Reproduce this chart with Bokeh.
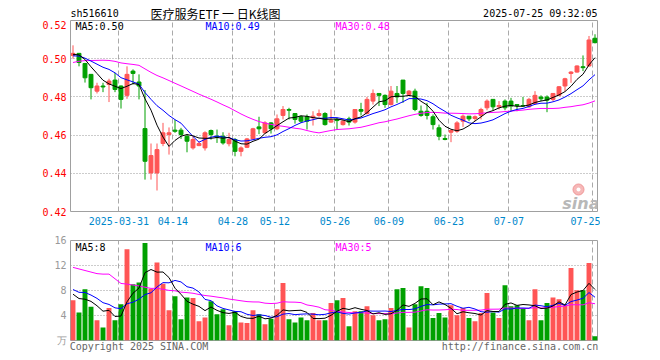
import numpy as np
import pandas as pd
from bokeh.plotting import figure
from bokeh.layouts import column
from bokeh.models import Range1d, FixedTicker, Label, Grid, PrintfTickFormatter
from bokeh.core.properties import value
from bokeh.embed import file_html
from bokeh.resources import INLINE

# ---------------- data ----------------
tick_idx = [8, 17, 27, 34, 44, 53, 63, 73, 87]
tick_labels = ["2025-03-31", "04-14", "04-28", "05-12", "05-26",
               "06-09", "06-23", "07-07", "07-25"]

open_ = [0.5017, 0.5028, 0.4975, 0.4918, 0.4830, 0.4857, 0.4865, 0.4888, 0.4857, 0.4808,
         0.4935, 0.4878, 0.4634, 0.4402, 0.4402, 0.4556, 0.4603, 0.4626, 0.4626, 0.4594,
         0.4533, 0.4545, 0.4533, 0.4624, 0.4594, 0.4594, 0.4555, 0.4577, 0.4515, 0.4536,
         0.4580, 0.4643, 0.4612, 0.4664, 0.4633, 0.4703, 0.4734, 0.4713, 0.4696, 0.4696,
         0.4691, 0.4703, 0.4713, 0.4668, 0.4682, 0.4655, 0.4685, 0.4668, 0.4734, 0.4713,
         0.4778, 0.4818, 0.4808, 0.4760, 0.4818, 0.4888, 0.4813, 0.4830, 0.4725, 0.4725,
         0.4696, 0.4638, 0.4582, 0.4615, 0.4620, 0.4673, 0.4699, 0.4687, 0.4703, 0.4743,
         0.4787, 0.4748, 0.4778, 0.4778, 0.4760, 0.4755, 0.4748, 0.4766, 0.4799, 0.4799,
         0.4787, 0.4808, 0.4857, 0.4923, 0.4930, 0.4958, 0.4962, 0.5107]
high = [0.5070, 0.5030, 0.4978, 0.4920, 0.4874, 0.4874, 0.4895, 0.4926, 0.4860, 0.4960,
        0.4944, 0.4918, 0.4836, 0.4556, 0.4556, 0.4664, 0.4640, 0.4680, 0.4638, 0.4603,
        0.4594, 0.4568, 0.4620, 0.4629, 0.4629, 0.4615, 0.4612, 0.4585, 0.4541, 0.4585,
        0.4638, 0.4696, 0.4673, 0.4668, 0.4708, 0.4752, 0.4743, 0.4713, 0.4703, 0.4708,
        0.4725, 0.4734, 0.4720, 0.4734, 0.4690, 0.4682, 0.4696, 0.4734, 0.4769, 0.4800,
        0.4839, 0.4818, 0.4813, 0.4857, 0.4857, 0.4888, 0.4836, 0.4843, 0.4755, 0.4769,
        0.4708, 0.4655, 0.4603, 0.4629, 0.4673, 0.4708, 0.4699, 0.4703, 0.4743, 0.4787,
        0.4787, 0.4778, 0.4787, 0.4795, 0.4760, 0.4800, 0.4795, 0.4830, 0.4808, 0.4808,
        0.4818, 0.4857, 0.4900, 0.4935, 0.4965, 0.5017, 0.5119, 0.5128]
low = [0.5000, 0.4960, 0.4875, 0.4787, 0.4818, 0.4825, 0.4773, 0.4825, 0.4739, 0.4790,
       0.4865, 0.4787, 0.4367, 0.4367, 0.4310, 0.4542, 0.4498, 0.4612, 0.4580, 0.4510,
       0.4524, 0.4542, 0.4519, 0.4576, 0.4559, 0.4550, 0.4541, 0.4489, 0.4489, 0.4532,
       0.4577, 0.4605, 0.4608, 0.4608, 0.4626, 0.4682, 0.4682, 0.4660, 0.4664, 0.4629,
       0.4650, 0.4696, 0.4650, 0.4664, 0.4629, 0.4650, 0.4650, 0.4660, 0.4703, 0.4708,
       0.4760, 0.4752, 0.4743, 0.4755, 0.4769, 0.4769, 0.4804, 0.4725, 0.4696, 0.4682,
       0.4629, 0.4573, 0.4573, 0.4563, 0.4612, 0.4643, 0.4673, 0.4673, 0.4682, 0.4730,
       0.4730, 0.4734, 0.4730, 0.4725, 0.4725, 0.4748, 0.4743, 0.4760, 0.4778, 0.4720,
       0.4778, 0.4804, 0.4830, 0.4874, 0.4927, 0.4935, 0.4958, 0.5080]
close = [0.5028, 0.4980, 0.4900, 0.4848, 0.4857, 0.4852, 0.4883, 0.4839, 0.4787, 0.4918,
         0.4923, 0.4857, 0.4463, 0.4493, 0.4524, 0.4612, 0.4612, 0.4620, 0.4603, 0.4568,
         0.4577, 0.4556, 0.4612, 0.4603, 0.4589, 0.4559, 0.4577, 0.4515, 0.4533, 0.4580,
         0.4633, 0.4633, 0.4664, 0.4633, 0.4685, 0.4734, 0.4730, 0.4682, 0.4673, 0.4673,
         0.4699, 0.4713, 0.4655, 0.4678, 0.4676, 0.4673, 0.4668, 0.4734, 0.4725, 0.4787,
         0.4818, 0.4808, 0.4760, 0.4830, 0.4800, 0.4818, 0.4830, 0.4734, 0.4703, 0.4703,
         0.4655, 0.4594, 0.4577, 0.4624, 0.4664, 0.4699, 0.4685, 0.4696, 0.4734, 0.4778,
         0.4748, 0.4755, 0.4743, 0.4752, 0.4755, 0.4752, 0.4787, 0.4808, 0.4790, 0.4783,
         0.4818, 0.4853, 0.4895, 0.4930, 0.4962, 0.4953, 0.5098, 0.5084]
volume = [6.45, 4.5, 8.2, 5.4, 3.25, 2.1, 5.2, 3.25, 5.8, 14.6,
          9.0, 9.3, 15.6, 8.3, 12.5, 9.1, 4.85, 7.1, 3.4, 6.9,
          6.8, 3.1, 3.7, 6.3, 4.2, 5.0, 2.45, 4.7, 2.9, 2.8,
          4.85, 4.2, 2.6, 3.5, 5.0, 9.2, 3.4, 2.9, 3.7, 3.25,
          4.4, 3.25, 3.25, 6.0, 6.45, 6.8, 2.3, 4.7, 4.7, 5.5,
          4.05, 3.25, 3.4, 5.2, 8.2, 8.4, 2.1, 5.8, 8.7, 8.4,
          3.6, 4.4, 3.7, 5.65, 4.05, 5.2, 3.6, 3.1, 4.4, 7.6,
          4.5, 3.6, 8.85, 5.5, 5.65, 5.2, 3.25, 8.2, 3.25, 6.0,
          6.9, 6.6, 5.65, 11.6, 8.05, 8.05, 12.4, 0.7]
# sessions before the first visible bar (estimated from where the MA lines start)
prior_close = [0.478, 0.480, 0.483, 0.484, 0.4827, 0.492, 0.498, 0.503, 0.505, 0.503,
               0.500, 0.502, 0.504, 0.501, 0.499, 0.503, 0.505, 0.502, 0.500, 0.5005,
               0.499, 0.501, 0.500, 0.502, 0.5013, 0.4995, 0.502, 0.504, 0.5032]
prior_volume = [12.0, 15.7, 12.9, 10.8, 4.5, 5.0, 25.7, 28.3, 17.6, 13.5,
                13.8, 21.6, 14.0, 12.0, 14.0, 10.0, 9.0, 10.0, 9.0, 10.0,
                9.0, 8.5, 9.5, 8.55, 9.0, 8.0, 8.7, 7.15, 6.75]
vol_ticks = [0, 4, 8, 12, 16]
vol_tick_labels = ["万", "4", "8", "12", "16"]

# ---------------- derived ----------------
N = len(close)
xs = np.arange(N) + 0.35
o = np.array(open_); c = np.array(close)
RED, GREEN = "#ff5555", "#00a000"
colors = [RED if cc >= oo else GREEN for oo, cc in zip(o, c)]
body_bot = np.minimum(o, c)
body_top = np.maximum(np.maximum(o, c), body_bot + 0.0003)

def ma(prior, vals, n):
    s = pd.Series(list(prior) + list(vals)).rolling(n).mean().to_numpy()
    return s[len(prior):]

ma5, ma10, ma30 = (ma(prior_close, close, n) for n in (5, 10, 30))
vma5, vma10, vma30 = (ma(prior_volume, volume, n) for n in (5, 10, 30))

W = 600
FL = 70           # frame left (px)
FR = 597          # frame right (px)
X0 = 0.35 - 2.5 / 6
xr = Range1d(X0, X0 + (FR - FL) / 6)

def dx(px):
    return X0 + (px - FL) / 6
def dy1(py):
    return 0.52 - (py - 20) * 0.10 / 191
def dy2(py):
    return 16 - (py - 240) * 16 / 100

MONO = "DejaVu Sans Mono"

def style_common(p):
    p.outline_line_color = "#a0a0a0"
    p.outline_line_width = 1
    p.background_fill_color = "white"
    p.border_fill_color = "white"
    for ax in p.axis:
        ax.axis_line_color = None
        ax.major_tick_line_color = None
        ax.minor_tick_line_color = None
        ax.major_tick_out = 0
        ax.major_tick_in = 0
        ax.major_label_text_font = MONO
        ax.major_label_text_font_size = "10px"

def lab(p, x, y, text, color="black", align="left", size="10px", font=MONO, style="normal"):
    p.add_layout(Label(x=x, y=y, text=text, text_color=color, text_align=align,
                       text_baseline="middle", text_font=font, text_font_size=size,
                       text_font_style=style))

# ---------------- header ----------------
# (the column aligns this strip's frame with the panels below: x runs FL..FR in page px)
HH = 20
head = figure(width=W, height=HH, x_range=Range1d(FL, FR), y_range=Range1d(0, HH),
              output_backend="svg", toolbar_location=None, title=None,
              x_axis_location=None, y_axis_location=None,
              min_border_left=FL, min_border_right=W - FR, min_border_top=0, min_border_bottom=0)
head.outline_line_color = None
head.xgrid.visible = False
head.ygrid.visible = False
head.background_fill_color = "white"
head.border_fill_color = "white"

def htxt(x, py, text, align="left", size="10px", font=MONO):
    head.text(x=[x], y=[HH - py], text=[text], text_color="black", text_align=align,
              text_baseline="middle", text_font=value(font), text_font_size=value(size))

htxt(70, 13, "sh516610")
htxt(150, 12.5, "医疗服务ETF 一 日K线图", size="12px", font="Noto Sans CJK SC")
htxt(597, 13, "2025-07-25 09:32:05", align="right")

# ---------------- main price panel ----------------
p1 = figure(width=W, height=212, x_range=xr, y_range=Range1d(0.42, 0.52),
            output_backend="svg", toolbar_location=None, title=None,
            min_border_left=FL, min_border_right=W - FR, min_border_top=0, min_border_bottom=21)
style_common(p1)
p1.xaxis.ticker = FixedTicker(ticks=tick_idx)
p1.xaxis.major_label_overrides = {t: l for t, l in zip(tick_idx, tick_labels)}
p1.xaxis.major_label_text_color = "#0088cc"
p1.xaxis.major_label_standoff = 5
p1.yaxis.ticker = FixedTicker(ticks=[0.42, 0.44, 0.46, 0.48, 0.50, 0.52])
p1.yaxis.formatter = PrintfTickFormatter(format="%.2f")
p1.yaxis.major_label_text_color = "#ff0000"
p1.yaxis.major_label_standoff = 4
p1.xgrid.grid_line_color = "#aaaaaa"
p1.xgrid.grid_line_dash = "5 3"
p1.ygrid.grid_line_color = "#999999"
p1.ygrid.grid_line_dash = "1 2"

p1.segment(x0=xs, y0=low, x1=xs, y1=high, line_color=colors, line_width=1)
p1.vbar(x=xs, bottom=body_bot, top=body_top, width=0.65,
        fill_color=colors, line_color=colors, line_width=1)
p1.line(xs, ma30, line_color="#ff00ff", line_width=1)
p1.line(xs, ma10, line_color="#0000ff", line_width=1)
p1.line(xs, ma5, line_color="#000000", line_width=1)

lab(p1, dx(75), dy1(26), "MA5:0.50")
lab(p1, dx(205), dy1(26), "MA10:0.49", color="#0000ff")
lab(p1, dx(335), dy1(26), "MA30:0.48", color="#ff00ff")
# sina watermark
p1.scatter([dx(578)], [dy1(189)], size=11, fill_color="#f6b8b8", line_color="#f09898")
p1.scatter([dx(578)], [dy1(189)], size=4, fill_color="white", line_color=None)
lab(p1, dx(599), dy1(203), "sina", color="#b8b8b8", align="right", size="16px",
    font="DejaVu Sans", style="bold italic")

# ---------------- volume panel ----------------
foot_ticks = [11.35, 74.85]
foot_labels = ["Copyright 2025 SINA.COM", "http://finance.sina.com.cn"]
p2 = figure(width=W, height=122, x_range=xr, y_range=Range1d(0, 16),
            output_backend="svg", toolbar_location=None, title=None,
            min_border_left=FL, min_border_right=W - FR, min_border_top=8, min_border_bottom=14)
style_common(p2)
p2.xaxis.ticker = FixedTicker(ticks=foot_ticks)
p2.xaxis.major_label_overrides = {t: l for t, l in zip(foot_ticks, foot_labels)}
p2.xaxis.major_label_text_color = "#666666"
p2.xaxis.major_label_standoff = 0
p2.xgrid.visible = False
p2.yaxis.ticker = FixedTicker(ticks=vol_ticks)
p2.yaxis.major_label_overrides = {t: l for t, l in zip(vol_ticks, vol_tick_labels)}
p2.yaxis.major_label_text_color = "#999999"
p2.yaxis.major_label_standoff = 4
p2.ygrid.grid_line_color = "#999999"
p2.ygrid.grid_line_dash = "1 2"
p2.add_layout(Grid(dimension=0, ticker=FixedTicker(ticks=tick_idx),
                   grid_line_color="#aaaaaa", grid_line_dash="5 3"))

p2.vbar(x=xs, bottom=0, top=volume, width=0.82, fill_color=colors, line_color=None)
p2.line(xs, vma30, line_color="#ff00ff", line_width=1)
p2.line(xs, vma10, line_color="#0000ff", line_width=1)
p2.line(xs, vma5, line_color="#000000", line_width=1)

lab(p2, dx(75), dy2(247), "MA5:8")
lab(p2, dx(205), dy2(247), "MA10:6", color="#0000ff")
lab(p2, dx(335), dy2(247), "MA30:5", color="#ff00ff")

layout = column(head, p1, p2)
open("out.html", "w").write(file_html(layout, INLINE))
